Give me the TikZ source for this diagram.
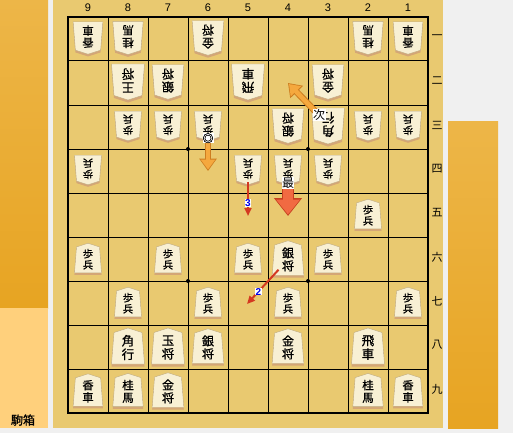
\documentclass[tikz,border=0pt]{standalone}
\usepackage{fontspec}
\usepackage{tikz}
\usetikzlibrary{arrows.meta}

\newfontfamily\jpfont{Noto Sans CJK JP}
\newfontfamily\komafont[FakeBold=0.8]{Noto Sans CJK JP}
\newfontfamily\numfont{Liberation Sans}

\definecolor{pagegray}{RGB}{240,240,240}
\definecolor{boardwood}{RGB}{233,201,112}
\definecolor{standtop}{RGB}{237,182,72}
\definecolor{standbottom}{RGB}{231,164,34}
\definecolor{boxfill}{RGB}{255,208,124}
\definecolor{komaface}{RGB}{248,240,212}
\definecolor{komashade}{RGB}{212,166,118}
\definecolor{komaline}{RGB}{190,170,128}
\definecolor{hintorange}{RGB}{245,168,62}
\definecolor{hintorangedark}{RGB}{205,125,32}
\definecolor{bestred}{RGB}{241,106,66}
\definecolor{bestreddark}{RGB}{198,64,32}
\definecolor{movered}{RGB}{212,56,32}
\definecolor{numblue}{RGB}{0,0,230}

% outline of one piece, point up
\newcommand{\komapath}{(-16.5,18) -- (16.5,18) -- (14,-13.5) -- (0,-18) -- (-14,-13.5) -- cycle}

% #1 angle (0 sente, 180 gote), #2 file, #3 rank, #4 name, #5 size
\newcommand{\koma}[5]{%
    \begin{scope}[shift={(448-40*#2,44*#3-6)}, rotate=#1, scale=#5]
        \fill[komashade, shift={(0,{2.5*cos(#1)})}] \komapath;
        \filldraw[fill=komaface, draw=komaline, line width=0.4pt] \komapath;
        \node[komatext, transform shape] (k#2#3) at (0,1.5) {#4};
    \end{scope}}

\begin{document}
\begin{tikzpicture}[
            x = 1pt, y = -1pt, % pixel units, y going down
            komatext/.style = {font=\komafont\fontsize{12.5}{13.5}\selectfont, align=center, inner sep=0pt},
            filelabel/.style = {font=\numfont\fontsize{11}{11}\selectfont, inner sep=0pt},
            ranklabel/.style = {font=\jpfont\fontsize{11}{11}\selectfont, inner sep=0pt},
            marklabel/.style = {font=\jpfont\fontsize{12}{12}\selectfont, fill=white, inner sep=0.4pt},
            numlabel/.style = {font=\numfont\bfseries\fontsize{10}{10}\selectfont, text=numblue, fill=white, inner sep=0.3pt}
        ]

        \tikzstyle{hintarrow}=[
            preaction = {draw=hintorangedark, line width=6.5pt, -{Triangle[width=17pt,length=12.5pt]}, shorten > = 0pt},
            draw = hintorange,
            line width = 4.5pt,
            -{Triangle[width=14pt,length=10pt]},
            shorten > = 1.5pt
        ]
        \tikzstyle{bestarrow}=[
            preaction = {draw=bestreddark, line width=11.5pt, -{Triangle[width=27pt,length=18pt]}, shorten > = 0pt},
            draw = bestred,
            line width = 9.5pt,
            -{Triangle[width=23pt,length=15pt]},
            shorten > = 1.5pt
        ]
        \tikzstyle{movearrow}=[
            draw = movered,
            line width = 2pt,
            -{Triangle[width=7pt,length=8pt]}
        ]

        \useasboundingbox (0,0) rectangle (513,433);

        % stands and board
        \fill[pagegray] (0,0) rectangle (513,433);
        \shade[top color=standtop, bottom color=standbottom] (0,0) rectangle (48,308);
        \fill[boxfill] (0,308) rectangle (48,428);
        \fill[boardwood] (53,0) rectangle (443,428);
        \shade[top color=standtop, bottom color=standbottom] (448,121) rectangle (498,428);
        \node[font=\komafont\fontsize{12}{12}\selectfont, inner sep=0pt] (komabako) at (23,420) {駒箱};

        % grid
        \foreach \i in {1,...,8} {
            \draw[line width=1pt] (68+40*\i,17) -- (68+40*\i,413);
            \draw[line width=1pt] (68,17+44*\i) -- (428,17+44*\i);
        }
        \draw[line width=2.5pt] (68,17) rectangle (428,413);
        \foreach \x/\y in {188/149, 308/149, 188/281, 308/281}
            \fill (\x,\y) circle (2pt);

        \foreach \fl in {1,...,9}
            \node[filelabel] (file\fl) at (448-40*\fl,8) {\fl};
        \foreach \rk/\kj in {1/一, 2/二, 3/三, 4/四, 5/五, 6/六, 7/七, 8/八, 9/九}
            \node[ranklabel] (rank\rk) at (437,44*\rk-7) {\kj};

        % gote
        \foreach \fl/\rk/\nm/\sz in {9/1/香\\車/0.9, 8/1/桂\\馬/0.92, 6/1/金\\将/0.96, 2/1/桂\\馬/0.92, 1/1/香\\車/0.9,
                8/2/王\\将/1, 7/2/銀\\将/0.96, 5/2/飛\\車/1, 3/2/金\\将/0.96,
                8/3/歩\\兵/0.82, 7/3/歩\\兵/0.82, 6/3/歩\\兵/0.82, 4/3/銀\\将/0.96, 3/3/角\\行/1, 2/3/歩\\兵/0.82, 1/3/歩\\兵/0.82,
                9/4/歩\\兵/0.82, 5/4/歩\\兵/0.82, 4/4/歩\\兵/0.82, 3/4/歩\\兵/0.82}
            {\koma{180}{\fl}{\rk}{\nm}{\sz}}

        % sente
        \foreach \fl/\rk/\nm/\sz in {2/5/歩\\兵/0.82,
                9/6/歩\\兵/0.82, 7/6/歩\\兵/0.82, 5/6/歩\\兵/0.82, 4/6/銀\\将/0.96, 3/6/歩\\兵/0.82,
                8/7/歩\\兵/0.82, 6/7/歩\\兵/0.82, 4/7/歩\\兵/0.82, 1/7/歩\\兵/0.82,
                8/8/角\\行/1, 7/8/玉\\将/1, 6/8/銀\\将/0.96, 4/8/金\\将/0.96, 2/8/飛\\車/1,
                9/9/香\\車/0.9, 8/9/桂\\馬/0.92, 7/9/金\\将/0.96, 2/9/桂\\馬/0.92, 1/9/香\\車/0.9}
            {\koma{0}{\fl}{\rk}{\nm}{\sz}}

        % move hints
        \coordinate (t42) at (288,83);
        \coordinate (t64) at (208,171);
        \coordinate (t55) at (248,216);
        \coordinate (t45) at (288,216);
        \coordinate (t57) at (247,304);

        \draw[hintarrow, shorten < = 12pt] (k33.center) -- (t42) node[pos=0.22, marklabel] (lnext) {次};
        \draw[hintarrow, shorten < = 14pt] (k63.center) -- (t64) node[pos=0.29, marklabel, font=\komafont\fontsize{11}{11}\selectfont, inner sep=0pt] (lmark) {◎};
        \draw[movearrow, shorten < = 13.5pt] (k54.center) -- (t55) node[pos=0.73, numlabel] (lthree) {3};
        \draw[bestarrow, shorten < = 16pt] (k44.center) -- (t45) node[pos=0.3, marklabel] (lbest) {最};
        \draw[movearrow, shorten < = 14pt] (k46.center) -- (t57) node[pos=0.72, numlabel] (ltwo) {2};

    \end{tikzpicture}
\end{document}
